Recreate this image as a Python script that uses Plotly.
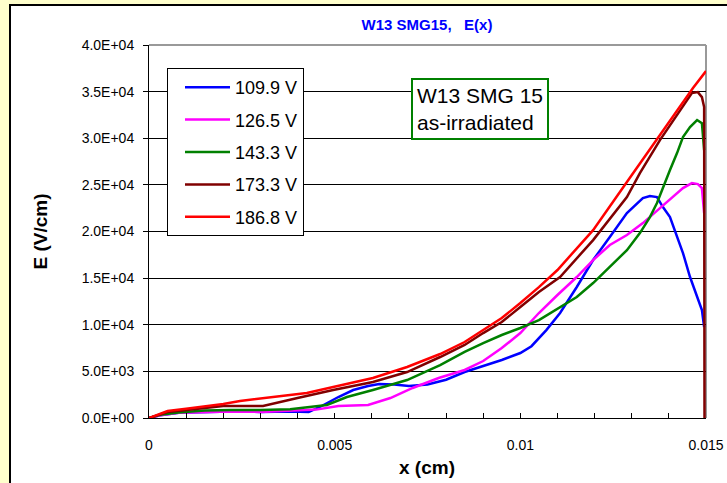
import plotly.graph_objects as go

# Electric field profiles E(x) across the detector thickness for several bias voltages
x_109 = [0, 0.0003, 0.0008, 0.0015, 0.0022, 0.003, 0.0038, 0.0043, 0.0046, 0.0051, 0.0055,
         0.0059, 0.0062, 0.0066, 0.007, 0.0075, 0.008, 0.0085, 0.009, 0.0095, 0.01, 0.0103,
         0.0107, 0.01107, 0.01152, 0.01196, 0.01241, 0.01287, 0.0133, 0.01349, 0.01368,
         0.01384, 0.01403, 0.01422, 0.01438, 0.01457, 0.01476, 0.01489, 0.01495]
e_109 = [0, 300, 550, 650, 700, 650, 700, 640, 1180, 2250, 3000, 3430, 3650, 3600, 3430,
         3600, 4100, 4930, 5570, 6220, 6970, 7700, 9430, 11260, 14050, 16940, 19400, 21980,
         23580, 23800, 23690, 22620, 21550, 19400, 17690, 15120, 12970, 11580, 9760]

x_126 = [0, 0.0003, 0.0008, 0.0015, 0.0022, 0.003, 0.0038, 0.0045, 0.0051, 0.0059, 0.0065,
         0.0071, 0.0078, 0.0085, 0.009, 0.0095, 0.01, 0.0105, 0.011, 0.01152, 0.01196,
         0.01241, 0.01287, 0.0133, 0.01376, 0.01411, 0.01438, 0.01462, 0.01478, 0.01489,
         0.01495]
e_126 = [0, 300, 550, 650, 700, 650, 750, 900, 1290, 1400, 2140, 3220, 4290, 5150, 6110,
         7500, 9110, 11260, 13190, 15120, 16940, 18550, 19620, 20900, 22510, 23690, 24660,
         25190, 25080, 24660, 21980]

x_143 = [0, 0.0003, 0.0008, 0.0015, 0.0022, 0.003, 0.0038, 0.00425, 0.00479, 0.00533,
         0.00603, 0.00695, 0.00784, 0.0085, 0.009, 0.0095, 0.01, 0.0105, 0.01107, 0.01152,
         0.01196, 0.01241, 0.01287, 0.01322, 0.01349, 0.01368, 0.01384, 0.01403, 0.01422,
         0.01438, 0.01457, 0.01476, 0.01489, 0.01495]
e_143 = [0, 350, 600, 800, 850, 850, 950, 1180, 1400, 2250, 3000, 4070, 5680, 7080, 8040,
         8900, 9650, 10500, 11900, 12970, 14470, 16190, 18000, 19830, 21550, 23050, 24760,
         26590, 28410, 30120, 31200, 31950, 31620, 28730]

x_173 = [0, 0.0003, 0.0005, 0.0012, 0.002, 0.0025, 0.00307, 0.004, 0.00496, 0.00603,
         0.00695, 0.00784, 0.0085, 0.009, 0.0095, 0.01, 0.0105, 0.01107, 0.01196, 0.01287,
         0.01322, 0.01376, 0.0143, 0.01462, 0.01478, 0.01489, 0.01495, 0.01496]
e_173 = [0, 400, 640, 950, 1290, 1300, 1290, 2140, 3000, 3860, 4930, 6540, 7830, 9110,
         10290, 11900, 13510, 15120, 19080, 23690, 26260, 29800, 33020, 34840, 34950, 34410,
         33340, 0]

x_186 = [0, 0.0003, 0.0005, 0.001, 0.00156, 0.002, 0.00245, 0.00334, 0.00425, 0.00496,
         0.00603, 0.00695, 0.00784, 0.0085, 0.009, 0.0095, 0.01, 0.0105, 0.011, 0.01196,
         0.01287, 0.01376, 0.01465, 0.015]
e_186 = [0, 450, 750, 1000, 1290, 1500, 1820, 2250, 2680, 3320, 4290, 5470, 6860, 8150,
         9430, 10720, 12330, 14040, 15870, 20150, 25300, 30340, 35380, 37200]

series_names = ["109.9 V", "126.5 V", "143.3 V", "173.3 V", "186.8 V"]
series_x = [x_109, x_126, x_143, x_173, x_186]
series_e = [e_109, e_126, e_143, e_173, e_186]
series_colors = ["#0000FF", "#FF00FF", "#008000", "#800000", "#FF0000"]

y_tickvals = [0, 5000, 10000, 15000, 20000, 25000, 30000, 35000, 40000]
y_ticktext = ["0.0E+00", "5.0E+03", "1.0E+04", "1.5E+04", "2.0E+04",
              "2.5E+04", "3.0E+04", "3.5E+04", "4.0E+04"]
x_tickvals = [0, 0.005, 0.01, 0.015]
x_ticktext = ["0", "0.005", "0.01", "0.015"]

W, H = 727, 483
L, R, T, B = 149, 21, 45, 65
pw, ph = W - L - R, H - T - B


def px(xp):
    return (xp - L) / pw


def py(yp):
    return (H - B - yp) / ph


fig = go.Figure()
for i, (name, xs, es, col) in enumerate(zip(series_names, series_x, series_e, series_colors)):
    fig.add_trace(go.Scatter(
        x=xs, y=es, name=name, mode="lines", legendgroup=f"g{i}",
        line=dict(color=col, width=2.5),
    ))

font = "Arial, Liberation Sans, sans-serif"

fig.update_layout(
    width=W, height=H,
    margin=dict(l=L, r=R, t=T, b=B, autoexpand=False),
    paper_bgcolor="#FFFFCC",
    plot_bgcolor="white",
    font=dict(family=font, color="black", size=14),
    title=dict(text="W13 SMG15,\u00a0\u00a0\u00a0E(x)", x=px(427), xref="paper",
               xanchor="center", y=1 - 25 / H, yanchor="middle",
               font=dict(family=font, size=15, color="#0000FF", weight="bold")),
    showlegend=True,
    legend=dict(x=px(167), y=py(68), xanchor="left", yanchor="top",
                bgcolor="white", bordercolor="black", borderwidth=1,
                font=dict(family=font, size=18), tracegroupgap=6,
                itemwidth=45, indentation=12),
    xaxis=dict(range=[0, 0.015], tickvals=x_tickvals, ticktext=x_ticktext,
               automargin=False,
               showgrid=False, zeroline=False, showline=True, linecolor="black",
               linewidth=1, ticks="inside", ticklen=5, tickcolor="black",
               ticklabelstandoff=14,
               minor=dict(dtick=0.001, ticks="inside", ticklen=5, tickcolor="black")),
    yaxis=dict(range=[0, 40000], tickvals=y_tickvals, ticktext=y_ticktext,
               automargin=False,
               showgrid=True, gridcolor="black", gridwidth=1, zeroline=False,
               showline=True, linecolor="black", linewidth=1,
               ticks="outside", ticklen=5, tickcolor="black", ticklabelstandoff=6),
    shapes=[
        # outer chart frame
        dict(type="rect", xref="paper", yref="paper", layer="below",
             x0=px(10), x1=px(W + 5), y0=py(H + 5), y1=py(5),
             line=dict(color="black", width=2), fillcolor="white"),
        # plot area border (top and right)
        dict(type="line", xref="paper", yref="paper", x0=0, x1=1, y0=1, y1=1,
             line=dict(color="#999999", width=2)),
        dict(type="line", xref="paper", yref="paper", x0=1, x1=1, y0=0, y1=1,
             layer="below", line=dict(color="#999999", width=2)),
    ],
    annotations=[
        dict(text="W13 SMG 15<br>as-irradiated", xref="paper", yref="paper",
             x=px(480), y=py(109), xanchor="center", yanchor="middle",
             showarrow=False, align="left", bgcolor="white",
             bordercolor="#008000", borderwidth=2, borderpad=4,
             font=dict(family=font, size=21, color="black")),
        dict(text="E (V/cm)", xref="paper", yref="paper", x=px(40), y=0.5,
             xanchor="center", yanchor="middle", textangle=-90, showarrow=False,
             font=dict(family=font, size=19, color="black", weight="bold")),
        dict(text="x (cm)", xref="paper", yref="paper", x=px(427), y=py(467),
             xanchor="center", yanchor="middle", showarrow=False,
             font=dict(family=font, size=19, color="black", weight="bold")),
    ],
)

fig.write_html("out.html")
